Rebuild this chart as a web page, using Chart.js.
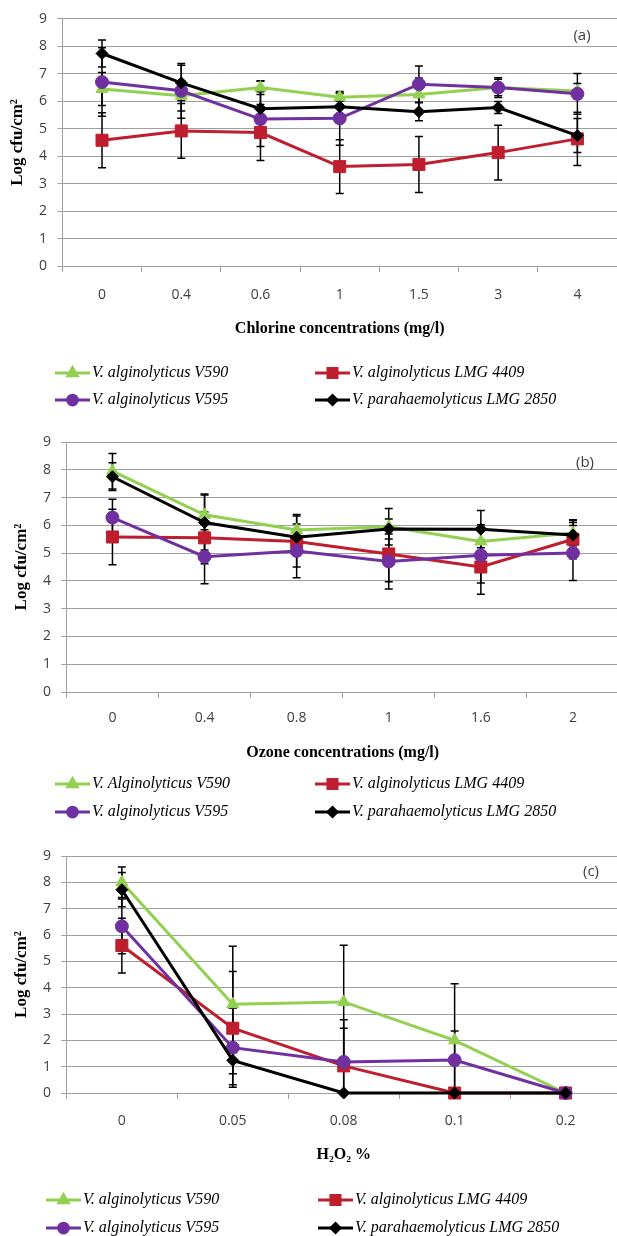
<!DOCTYPE html>
<html>
<head>
<meta charset="utf-8">
<script src="https://cdn.jsdelivr.net/npm/chart.js"></script>
<style>
html, body { margin: 0; padding: 0; background: #fff; overflow: hidden; }
.panel { position: relative; }
</style>
</head>
<body>
<div class="panel" style="height:410px;width:617px"><canvas id="chart-a"></canvas></div>
<div class="panel" style="height:425px;width:619px"><canvas id="chart-b"></canvas></div>
<div class="panel" style="height:401px;width:621px"><canvas id="chart-c"></canvas></div>
<script>
// strain names (legend)
var strainNames = ["V. alginolyticus V590", "V. alginolyticus LMG 4409", "V. alginolyticus V595", "V. parahaemolyticus LMG 2850"];
var strainNamesOzone = ["V. Alginolyticus V590", "V. alginolyticus LMG 4409", "V. alginolyticus V595", "V. parahaemolyticus LMG 2850"];

// (a) chlorine
var chlorineLabels = ["0", "0.4", "0.6", "1", "1.5", "3", "4"];
var chlorineV590 = [6.45, 6.2, 6.5, 6.15, 6.25, 6.5, 6.37];
var chlorineV590Err = [0.6, 0.55, 0.25, 0.15, 0.6, 0.3, 0.28];
var chlorineLMG4409 = [4.58, 4.92, 4.86, 3.62, 3.7, 4.13, 4.63];
var chlorineLMG4409Err = [1.0, 1.0, 1.02, 0.98, 1.02, 1.0, 0.97];
var chlorineV595 = [6.7, 6.38, 5.35, 5.38, 6.62, 6.5, 6.27];
var chlorineV595Err = [1.25, 1.0, 1.0, 0.98, 0.66, 0.36, 0.74];
var chlorineLMG2850 = [7.74, 6.67, 5.73, 5.8, 5.62, 5.77, 4.75];
var chlorineLMG2850Err = [0.49, 0.64, 1.0, 0.48, 0.33, 0.22, 0.62];

// (b) ozone
var ozoneLabels = ["0", "0.4", "0.8", "1", "1.6", "2"];
var ozoneV590 = [7.95, 6.38, 5.83, 5.95, 5.42, 5.72];
var ozoneV590Err = [0.64, 0.75, 0.56, 0.66, 0.6, 0.45];
var ozoneLMG4409 = [5.58, 5.55, 5.42, 4.97, 4.5, 5.5];
var ozoneLMG4409Err = [1.0, 0.93, 0.92, 1.0, 0.98, 0.7];
var ozoneV595 = [6.28, 4.87, 5.08, 4.7, 4.92, 5.0];
var ozoneV595Err = [0.66, 0.97, 0.97, 0.99, 1.0, 0.99];
var ozoneLMG2850 = [7.75, 6.1, 5.57, 5.87, 5.86, 5.65];
var ozoneLMG2850Err = [0.5, 0.99, 0.3, 0.36, 0.67, 0.45];

// (c) hydrogen peroxide
var h2o2Labels = ["0", "0.05", "0.08", "0.1", "0.2"];
var h2o2V590 = [8.0, 3.37, 3.46, 2.0, 0];
var h2o2V590Err = [0.58, 2.2, 2.15, 2.15, 0];
var h2o2LMG4409 = [5.6, 2.46, 1.03, 0, 0];
var h2o2LMG4409Err = [1.04, 2.15, 1.43, 0, 0];
var h2o2V595 = [6.33, 1.72, 1.18, 1.25, 0];
var h2o2V595Err = [1.04, 1.5, 1.6, 1.1, 0];
var h2o2LMG2850 = [7.72, 1.24, 0, 0, 0];
var h2o2LMG2850Err = [0.65, 0.51, 0, 0, 0];

var yTicks = [0, 9];

var seriesStyles = [
    { color: "#92d050", pointStyle: "triangle", radius: 7, order: 4 },
    { color: "#be1e2d", pointStyle: "rect", radius: 8.5, order: 3 },
    { color: "#7030a0", pointStyle: "circle", radius: 6.5, order: 2 },
    { color: "#000000", pointStyle: "rectRot", radius: 6, order: 1 }
];

// draw black I-beam error bars under the lines
var errorBarsPlugin = {
    id: "errorBars",
    beforeDatasetsDraw: function(chart) {
        var ctx = chart.ctx, area = chart.chartArea, yScale = chart.scales.y;
        ctx.save();
        ctx.beginPath();
        ctx.rect(area.left, area.top - 2, area.right - area.left, area.bottom - area.top + 2);
        ctx.clip();
        ctx.strokeStyle = "#000";
        ctx.lineWidth = 1.5;
        chart.data.datasets.forEach(function(ds, di) {
            if (!ds.errors) return;
            var meta = chart.getDatasetMeta(di);
            ds.data.forEach(function(v, i) {
                var e = ds.errors[i];
                if (!e) return;
                var x = meta.data[i].x;
                var yTop = yScale.getPixelForValue(v + e);
                var yBot = yScale.getPixelForValue(v - e);
                ctx.beginPath();
                ctx.moveTo(x, yTop); ctx.lineTo(x, yBot);
                ctx.moveTo(x - 4, yTop); ctx.lineTo(x + 4, yTop);
                ctx.moveTo(x - 4, yBot); ctx.lineTo(x + 4, yBot);
                ctx.stroke();
            });
        });
        ctx.restore();
    }
};

// 2x2 legend and the (a)/(b)/(c) tag
var panelExtrasPlugin = {
    id: "panelExtras",
    afterDraw: function(chart, args, opts) {
        var ctx = chart.ctx, area = chart.chartArea;
        ctx.save();
        ctx.fillStyle = "#404040";
        ctx.font = "15px 'Open Sans'";
        ctx.textAlign = "center";
        ctx.textBaseline = "middle";
        ctx.fillText(opts.tag, opts.tagX, area.top + opts.tagDy);

        chart.data.datasets.forEach(function(ds, i) {
            var x0 = opts.cols[i % 2];
            var y = area.bottom + opts.rows[Math.floor(i / 2)];
            ctx.strokeStyle = ds.borderColor;
            ctx.lineWidth = 3;
            ctx.beginPath();
            ctx.moveTo(x0, y); ctx.lineTo(x0 + 35, y);
            ctx.stroke();
            ctx.fillStyle = ds.borderColor;
            Chart.helpers.drawPoint(ctx, {
                pointStyle: ds.pointStyle, radius: ds.pointRadius * 0.75, rotation: 0, borderWidth: 1
            }, x0 + 17.5, y);
            ctx.fillStyle = "#000";
            ctx.font = "italic 16px 'Liberation Serif'";
            ctx.textAlign = "left";
            ctx.fillText(ds.label, x0 + 37, y);
        });
        ctx.restore();
    }
};

function makeDatasets(names, values, errors) {
    return values.map(function(vals, i) {
        var s = seriesStyles[i];
        return {
            label: names[i],
            data: vals,
            errors: errors[i],
            borderColor: s.color,
            backgroundColor: s.color,
            borderWidth: 3,
            pointStyle: s.pointStyle,
            pointRadius: s.radius,
            pointBorderWidth: 1,
            order: s.order,
            clip: false,
            tension: 0
        };
    });
}

function makeChart(id, labels, datasets, xTitle, lay) {
    var config = {
        type: "line",
        data: { labels: labels, datasets: datasets },
        options: {
            responsive: true,
            maintainAspectRatio: false,
            animation: false,
            layout: { autoPadding: false, padding: { left: lay.left, right: 0, top: lay.top, bottom: lay.bottom } },
            plugins: {
                legend: { display: false },
                tooltip: { enabled: false },
                panelExtras: { tag: lay.tag, tagX: lay.tagX, tagDy: lay.tagDy, cols: lay.cols, rows: lay.rows }
            },
            scales: {
                x: {
                    offset: true,
                    grid: { offset: true, drawOnChartArea: false, drawTicks: true, tickLength: 6, color: "#a0a0a0" },
                    border: { color: "#a0a0a0" },
                    ticks: { color: "#404040", font: { family: "'Open Sans'", size: 14 }, padding: lay.tickPad, maxRotation: 0, autoSkip: false },
                    title: {
                        display: true, text: xTitle, color: "#000",
                        font: { family: "'Liberation Serif'", size: 16, weight: "bold" },
                        padding: { top: lay.titlePad, bottom: 0 }
                    }
                },
                y: {
                    min: yTicks[0],
                    max: yTicks[1],
                    grid: { color: "#a0a0a0", tickLength: 5 },
                    border: { color: "#a0a0a0" },
                    ticks: { stepSize: 1, color: "#404040", font: { family: "'Open Sans'", size: 14 }, padding: 10.5 },
                    title: {
                        display: true, text: "Log cfu/cm\u00b2", color: "#000",
                        font: { family: "'Liberation Serif'", size: 17, weight: "bold" },
                        padding: { top: 7, bottom: 1 }
                    }
                }
            }
        },
        plugins: [errorBarsPlugin, panelExtrasPlugin]
    };
    return new Chart(document.getElementById(id), config);
}

makeChart("chart-a", chlorineLabels,
    makeDatasets(strainNames,
        [chlorineV590, chlorineLMG4409, chlorineV595, chlorineLMG2850],
        [chlorineV590Err, chlorineLMG4409Err, chlorineV595Err, chlorineLMG2850Err]),
    "Chlorine concentrations (mg/l)",
    { left: 0, top: 16, bottom: 72, tickPad: 15, titlePad: 0, tag: "(a)", tagX: 582, tagDy: 17, cols: [55, 315], rows: [107, 134] });

makeChart("chart-b", ozoneLabels,
    makeDatasets(strainNamesOzone,
        [ozoneV590, ozoneLMG4409, ozoneV595, ozoneLMG2850],
        [ozoneV590Err, ozoneLMG4409Err, ozoneV595Err, ozoneLMG2850Err]),
    "Ozone concentrations (mg/l)",
    { left: 4, top: 32, bottom: 73, tickPad: 12, titlePad: 4, tag: "(b)", tagX: 585, tagDy: 21, cols: [55, 315], rows: [92, 120] });

makeChart("chart-c", h2o2Labels,
    makeDatasets(strainNames,
        [h2o2V590, h2o2LMG4409, h2o2V595, h2o2LMG2850],
        [h2o2V590Err, h2o2LMG4409Err, h2o2V595Err, h2o2LMG2850Err]),
    "H\u2082O\u2082 %",
    { left: 4, top: 21, bottom: 72, tickPad: 14, titlePad: 1, tag: "(c)", tagX: 591, tagDy: 16, cols: [46, 318], rows: [107, 135] });
</script>
</body>
</html>
